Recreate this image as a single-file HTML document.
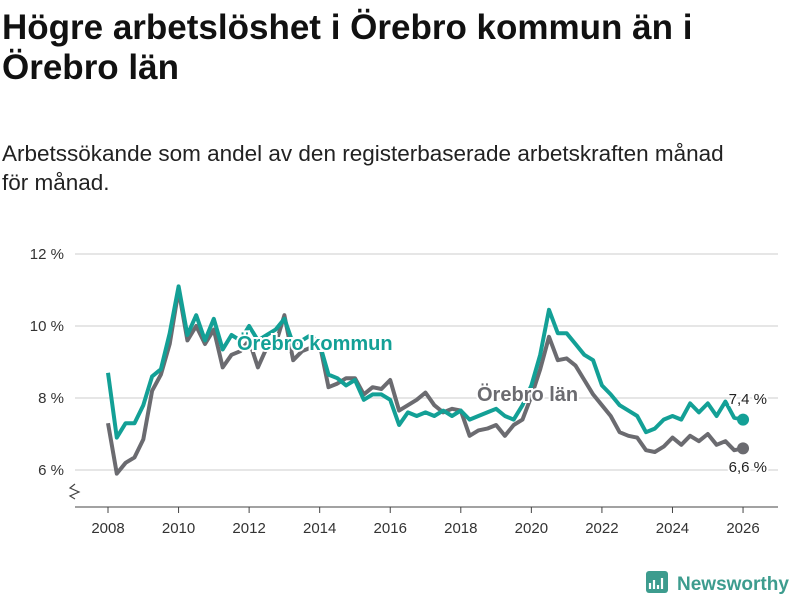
<!DOCTYPE html>
<html><head><meta charset="utf-8"><style>
body{margin:0;background:#fff;font-family:"Liberation Sans",sans-serif;}
#wrap{position:relative;width:800px;height:600px;overflow:hidden;}
h1{position:absolute;left:2px;top:8px;margin:0;font-size:35px;line-height:40px;font-weight:bold;color:#111;width:730px;}
p.sub{position:absolute;left:2px;top:139px;margin:0;font-size:22.5px;line-height:29px;color:#222;width:740px;}
svg{position:absolute;left:0;top:0;}
</style></head><body><div id="wrap">
<h1>Högre arbetslöshet i Örebro kommun än i Örebro län</h1>
<p class="sub">Arbetssökande som andel av den registerbaserade arbetskraften månad för månad.</p>
<svg id="chart" width="800" height="600"></svg>
</div>
<script>
const startYear = 2008;
const kommun = [8.7,6.9,7.3,7.3,7.8,8.6,8.8,9.8,11.1,9.75,10.3,9.6,10.2,9.35,9.75,9.6,10.0,9.6,9.75,9.9,10.2,9.5,9.6,9.75,9.5,8.65,8.55,8.35,8.5,7.95,8.1,8.1,7.95,7.25,7.6,7.5,7.6,7.5,7.65,7.5,7.65,7.4,7.5,7.6,7.7,7.5,7.4,7.8,8.35,9.2,10.45,9.8,9.8,9.5,9.2,9.05,8.35,8.1,7.8,7.65,7.5,7.05,7.15,7.4,7.5,7.4,7.85,7.6,7.85,7.5,7.9,7.45,7.4];
const lan = [7.3,5.9,6.2,6.35,6.85,8.2,8.65,9.5,11.0,9.6,10.0,9.5,9.9,8.85,9.2,9.3,9.6,8.85,9.4,9.5,10.3,9.05,9.3,9.4,9.5,8.3,8.4,8.55,8.55,8.1,8.3,8.25,8.5,7.65,7.8,7.95,8.15,7.8,7.6,7.7,7.65,6.95,7.1,7.15,7.25,6.95,7.25,7.4,8.05,8.8,9.7,9.05,9.1,8.9,8.5,8.1,7.8,7.5,7.05,6.95,6.9,6.55,6.5,6.65,6.9,6.7,6.95,6.8,7.0,6.7,6.8,6.55,6.6];
const yTicks = [6,8,10,12];
const yTickLabels = ["6 %","8 %","10 %","12 %"];
const xTicks = [2008,2010,2012,2014,2016,2018,2020,2022,2024,2026];

const svg = document.getElementById('chart');
const NS = 'http://www.w3.org/2000/svg';
function y(v){return 470-(v-6)*36;}
function x(yr){return 108+(yr-2008)*35.28;}
function mk(tag,attrs,parent){const e=document.createElementNS(NS,tag);for(const k in attrs)e.setAttribute(k,attrs[k]);(parent||svg).appendChild(e);return e;}

yTicks.forEach((t,i)=>{
  const g=mk('line',{x1:75,x2:778,y1:y(t),y2:y(t),stroke:'#ddd','stroke-width':1.5});
  
  
  const tx=mk('text',{x:64,y:y(t)+5,'text-anchor':'end','font-size':15,fill:'#333','font-family':'Liberation Sans, sans-serif'});
  tx.textContent=yTickLabels[i];
  
  
});
const ax=mk('line',{x1:75,x2:778,y1:507,y2:507,stroke:'#444','stroke-width':1});


const br=mk('path',{d:'M75,484 l-5,4 l9,4 l-9,4 l5,3',fill:'none',stroke:'#444','stroke-width':1.2});


xTicks.forEach(t=>{
  mk('line',{x1:x(t),x2:x(t),y1:507,y2:513,stroke:'#444'});
  const tx=mk('text',{x:x(t),y:533,'text-anchor':'middle','font-size':15,fill:'#333','font-family':'Liberation Sans, sans-serif'});
  tx.textContent=t;
  
  
});
function line(data,color,name){
  const d=data.map((v,i)=>(i?'L':'M')+x(startYear+i/4).toFixed(1)+','+y(v).toFixed(1)).join('');
  const p=mk('path',{d:d,fill:'none',stroke:color,'stroke-width':4,'stroke-linejoin':'round'});
  
  
  const n=data.length-1;
  const c=mk('circle',{cx:x(startYear+n/4),cy:y(data[n]),r:6,fill:color});
  
  
}
line(lan,'#6b6b70','lan');
line(kommun,'#13a096','kommun');
function label(txt,lx,ly,color,name,anchor,size,bold){
  const t=mk('text',{x:lx,y:ly,'font-size':size,'font-weight':bold?'bold':'normal',fill:color,stroke:'#fff','stroke-width':4,'paint-order':'stroke','text-anchor':anchor,'font-family':'Liberation Sans, sans-serif'});
  t.textContent=txt;
  
  
}
label('Örebro kommun',237,350,'#13a096','kommun-label','start',20,true);
label('Örebro län',477,401,'#6b6b70','lan-label','start',20,true);
label('7,4 %',767,404,'#222','kommun-end-value','end',15,false);
label('6,6 %',767,472,'#222','lan-end-value','end',15,false);
const lg=mk('g',{});


mk('rect',{x:646,y:571,width:22,height:22,rx:3,fill:'#3d9c8e'},lg);
mk('path',{d:'M650,589 v-6 M654,589 v-9 M658,589 v-4 M662,589 v-11',stroke:'#fff','stroke-width':2.2},lg);
const lt=mk('text',{x:677,y:590,'font-size':19,'font-weight':'bold',fill:'#3d9c8e','font-family':'Liberation Sans, sans-serif'},lg);
lt.textContent='Newsworthy';
</script></body></html>
